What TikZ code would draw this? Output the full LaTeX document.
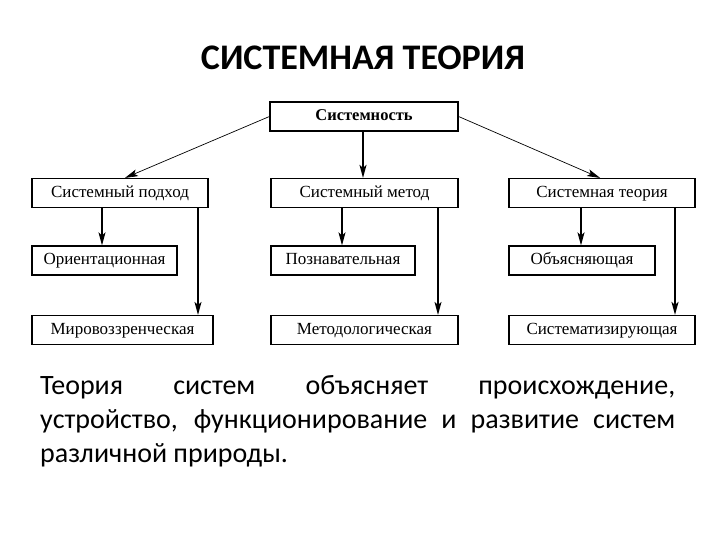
\documentclass[tikz,border=0pt]{standalone}
\usepackage{fontspec}
\setmainfont{Liberation Serif}
\newfontfamily\calfont{Carlito}
\usetikzlibrary{arrows.meta}
\tikzset{
  box/.style={draw, line width=1.2pt, minimum height=29pt, inner sep=0pt, text height=11pt, text depth=3pt, font=\fontsize{17}{17}\selectfont},
  thick arrow/.style={line width=1.5pt, -{Stealth[length=13pt,width=7pt,inset=3pt]}},
  thin arrow/.style={line width=1.1pt, -{Stealth[length=13pt,width=7pt,inset=3pt]}},
  diag arrow/.style={line width=0.7pt, -{Stealth[length=13pt,width=7pt,inset=3pt]}}
}
\begin{document}
\begin{tikzpicture}[x=1pt,y=-1pt]
\useasboundingbox (0,0) rectangle (720,540);
\node[font=\calfont\bfseries\fontsize{36}{36}\selectfont] (title) at (363,58) {СИСТЕМНАЯ ТЕОРИЯ};
\node[box, minimum width=188pt, font=\bfseries\fontsize{16.5}{16.5}\selectfont] (sy) at (364,116.5) {Системность};
\node[box, minimum width=176pt] (sp) at (120,193) {Системный подход};
\node[box, minimum width=187pt] (sm) at (364.5,193) {Системный метод};
\node[box, minimum width=186pt] (st) at (602,193) {Системная теория};
\node[box, minimum width=145pt] (or) at (104.5,260.5) {Ориентационная};
\node[box, minimum width=144pt] (po) at (343,260.5) {Познавательная};
\node[box, minimum width=146pt] (ob) at (582,260.5) {Объясняющая};
\node[box, minimum width=181pt] (mi) at (122.5,330) {Мировоззренческая};
\node[box, minimum width=187pt] (me) at (364.5,330) {Методологическая};
\node[box, minimum width=186pt] (si) at (602,330) {Систематизирующая};
\coordinate (xa) at (102,0);
\coordinate (xb) at (198,0);
\coordinate (xc) at (342,0);
\coordinate (xd) at (438,0);
\coordinate (xe) at (581,0);
\coordinate (xf) at (675,0);
\coordinate (xl) at (125,0);
\coordinate (xr) at (600,0);
\coordinate (xm) at (363,0);
\draw[diag arrow] (sy.west) -- (sp.north -| xl);
\draw[diag arrow] (sy.east) -- (st.north -| xr);
\draw[thick arrow] (sy.south -| xm) -- (sm.north -| xm);
\draw[thick arrow] (sp.south -| xa) -- (or.north -| xa);
\draw[thin arrow] (sp.south -| xb) -- (mi.north -| xb);
\draw[thick arrow] (sm.south -| xc) -- (po.north -| xc);
\draw[thin arrow] (sm.south -| xd) -- (me.north -| xd);
\draw[thick arrow] (st.south -| xe) -- (ob.north -| xe);
\draw[thick arrow] (st.south -| xf) -- (si.north -| xf);
\node[anchor=north west, inner sep=0pt, text width=635pt, align=justify, font=\calfont\fontsize{28}{34}\selectfont] (para) at (40,375) {Теория систем объясняет происхождение,\linebreak устройство, функционирование и развитие систем\linebreak различной природы.};
\end{tikzpicture}
\end{document}
